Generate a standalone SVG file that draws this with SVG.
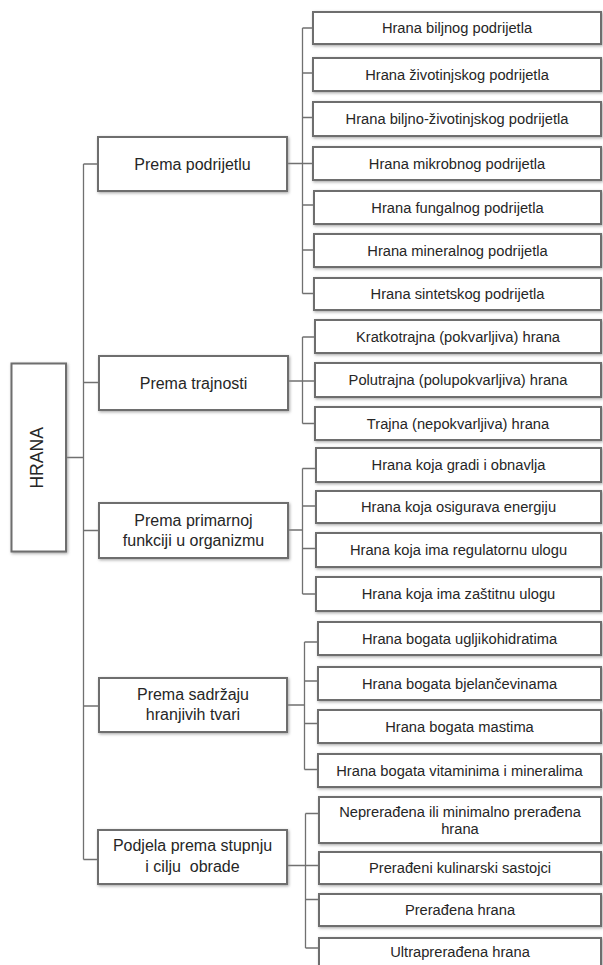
<svg xmlns="http://www.w3.org/2000/svg" width="603" height="965" viewBox="0 0 603 965">
<defs>
<filter id="sh" x="-10%" y="-30%" width="120%" height="160%">
<feDropShadow dx="1" dy="1.2" stdDeviation="1.4" flood-color="#8a8a8a" flood-opacity="0.75"/>
</filter>
<style>
.box{fill:#ffffff;stroke:#6e6e6e;stroke-width:2;filter:url(#sh)}
.con{fill:none;stroke:#707070;stroke-width:1.3}
text{font-family:"Liberation Sans",Arial,sans-serif;fill:#262626;text-anchor:middle}
.c{font-size:14.7px}
.p{font-size:16px}
.r{font-size:17.6px}
</style>
</defs>
<rect width="603" height="965" fill="#ffffff"/>
<g id="connectors">
<path class="con" d="M66,457.5H83.5M83.5,164V859.5M83.5,164H98M83.5,382.5H99M83.5,530.5H99M83.5,706H99M83.5,859.5H98"/>
<path class="con" d="M287,163.5H302.5M288,381H302.5M288,530H302.5M287,705H304.5M287,865.5H305.5"/>
<path class="con" d="M302.5,28V293.5M302.5,28H313M302.5,73H313M302.5,117.5H313M302.5,163.5H313M302.5,205H313M302.5,250H313M302.5,293.5H313"/>
<path class="con" d="M302.5,337V423.5M302.5,337H315M302.5,381H315M302.5,423.5H315"/>
<path class="con" d="M302.5,468.5V594M302.5,468.5H316M302.5,506H316M302.5,548.5H316M302.5,594H316"/>
<path class="con" d="M304.5,642V769.5M304.5,642H318M304.5,681H318M304.5,723.5H318M304.5,769.5H318"/>
<path class="con" d="M305.5,813.5V948M305.5,813.5H319M305.5,865.5H319M305.5,899.5H319M305.5,948H319"/>
</g>
<g id="hrana"><rect class="box" x="11.5" y="363.5" width="54.5" height="188"/><text class="r" transform="translate(42.7,457.8) rotate(-90)">HRANA</text></g>
<g id="prema-podrijetlu"><rect class="box" x="98" y="137" width="189" height="54"/><text class="p" x="192.5" y="169.8">Prema podrijetlu</text></g>
<g id="prema-trajnosti"><rect class="box" x="99" y="356" width="189" height="54"/><text class="p" x="193.5" y="388.8">Prema trajnosti</text></g>
<g id="prema-primarnoj"><rect class="box" x="99" y="503" width="189" height="55"/><text class="p" x="193.5" y="526">Prema primarnoj</text><text class="p" x="193.5" y="545.5">funkciji u organizmu</text></g>
<g id="prema-sadrzaju"><rect class="box" x="99" y="678" width="188" height="54"/><text class="p" x="193" y="700">Prema sadržaju</text><text class="p" x="193" y="720">hranjivih tvari</text></g>
<g id="podjela"><rect class="box" x="98" y="830" width="189" height="54"/><text class="p" x="192.5" y="850.8">Podjela prema stupnju</text><text class="p" x="192.5" y="871.5" xml:space="preserve">i cilju  obrade</text></g>
<g id="g1-1"><rect class="box" x="313" y="12" width="288" height="32"/><text class="c" x="457" y="33.3">Hrana biljnog podrijetla</text></g>
<g id="g1-2"><rect class="box" x="313" y="58" width="288" height="33"/><text class="c" x="457" y="79.8">Hrana životinjskog podrijetla</text></g>
<g id="g1-3"><rect class="box" x="313" y="102" width="288" height="34"/><text class="c" x="457" y="124.3">Hrana biljno-životinjskog podrijetla</text></g>
<g id="g1-4"><rect class="box" x="313" y="147" width="288" height="33"/><text class="c" x="457" y="168.8">Hrana mikrobnog podrijetla</text></g>
<g id="g1-5"><rect class="box" x="314" y="191" width="287" height="33"/><text class="c" x="457.5" y="212.8">Hrana fungalnog podrijetla</text></g>
<g id="g1-6"><rect class="box" x="314" y="234" width="287" height="33"/><text class="c" x="457.5" y="255.8">Hrana mineralnog podrijetla</text></g>
<g id="g1-7"><rect class="box" x="314" y="278" width="287" height="32"/><text class="c" x="457.5" y="299.3">Hrana sintetskog podrijetla</text></g>
<g id="g2-1"><rect class="box" x="315" y="320" width="286" height="33"/><text class="c" x="458" y="341.8">Kratkotrajna (pokvarljiva) hrana</text></g>
<g id="g2-2"><rect class="box" x="315" y="363" width="286" height="34"/><text class="c" x="458" y="385.3">Polutrajna (polupokvarljiva) hrana</text></g>
<g id="g2-3"><rect class="box" x="315" y="407" width="286" height="33"/><text class="c" x="458" y="428.8">Trajna (nepokvarljiva) hrana</text></g>
<g id="g3-1"><rect class="box" x="316" y="448" width="285" height="34"/><text class="c" x="458.5" y="470.3">Hrana koja gradi i obnavlja</text></g>
<g id="g3-2"><rect class="box" x="316" y="491" width="285" height="32"/><text class="c" x="458.5" y="512.3">Hrana koja osigurava energiju</text></g>
<g id="g3-3"><rect class="box" x="316" y="533" width="285" height="34"/><text class="c" x="458.5" y="555.3">Hrana koja ima regulatornu ulogu</text></g>
<g id="g3-4"><rect class="box" x="316" y="577" width="285" height="34"/><text class="c" x="458.5" y="599.3">Hrana koja ima zaštitnu ulogu</text></g>
<g id="g4-1"><rect class="box" x="318" y="622" width="283" height="33"/><text class="c" x="459.5" y="643.8">Hrana bogata ugljikohidratima</text></g>
<g id="g4-2"><rect class="box" x="318" y="667" width="283" height="33"/><text class="c" x="459.5" y="688.8">Hrana bogata bjelančevinama</text></g>
<g id="g4-3"><rect class="box" x="318" y="710" width="283" height="33"/><text class="c" x="459.5" y="731.8">Hrana bogata mastima</text></g>
<g id="g4-4"><rect class="box" x="318" y="754" width="283" height="33"/><text class="c" x="459.5" y="775.8">Hrana bogata vitaminima i mineralima</text></g>
<g id="g5-1"><rect class="box" x="319" y="797" width="282" height="46"/><text class="c" x="460" y="817.3">Neprerađena ili minimalno prerađena</text><text class="c" x="460" y="834">hrana</text></g>
<g id="g5-2"><rect class="box" x="319" y="852" width="282" height="32"/><text class="c" x="460" y="873.3">Prerađeni kulinarski sastojci</text></g>
<g id="g5-3"><rect class="box" x="319" y="894" width="282" height="32"/><text class="c" x="460" y="915.3">Prerađena hrana</text></g>
<g id="g5-4"><rect class="box" x="319" y="938" width="282" height="36"/><text class="c" x="460" y="957">Ultraprerađena hrana</text></g>
</svg>
